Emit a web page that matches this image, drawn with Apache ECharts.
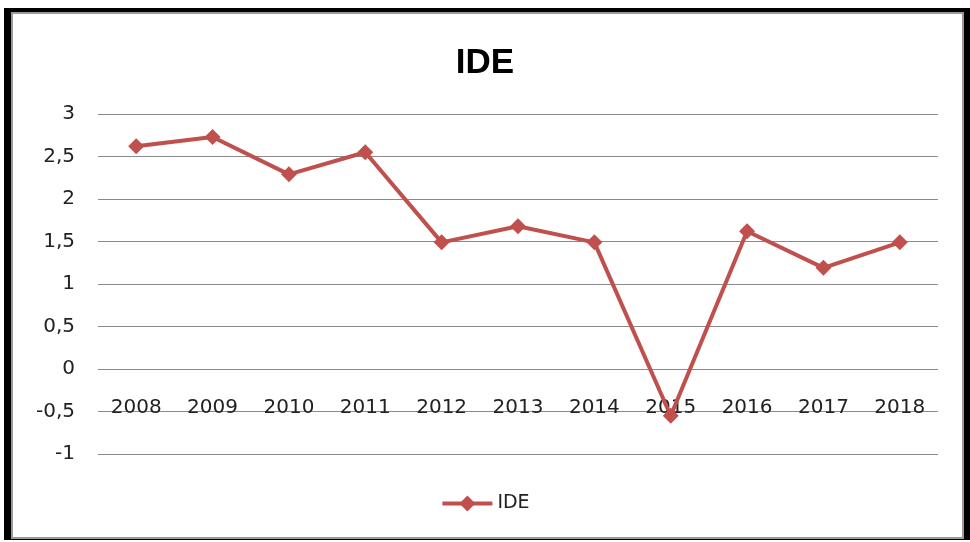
<!DOCTYPE html>
<html>
<head>
<meta charset="utf-8">
<script src="https://cdn.jsdelivr.net/npm/echarts@6/dist/echarts.min.js"></script>
<style>
html,body{margin:0;padding:0;background:#fff;}
#chart{width:970px;height:542px;}
</style>
</head>
<body>
<div id="chart"></div>
<script>
const categories = ['2008','2009','2010','2011','2012','2013','2014','2015','2016','2017','2018'];
const ideValues = [2.62, 2.73, 2.29, 2.55, 1.49, 1.68, 1.49, -0.55, 1.62, 1.19, 1.49];
const yTicks = { min: -1, max: 3, interval: 0.5 };
const titleText = 'IDE';
const seriesName = 'IDE';

const chart = echarts.init(document.getElementById('chart'), null, { renderer: 'canvas' });
const fmt = v => String(v).replace('.', ',');
chart.setOption({
  animation: false,
  backgroundColor: '#fff',
  graphic: [
    { type: 'rect', z: -10, shape: { x: 4, y: 8, width: 970, height: 532 }, style: { fill: '#000' } },
    { type: 'rect', z: -9, shape: { x: 11, y: 12, width: 953, height: 527 }, style: { fill: '#9a9a9a' } },
    { type: 'rect', z: -8, shape: { x: 13, y: 14, width: 949, height: 523 }, style: { fill: '#fff' } }
  ],
  title: {
    text: titleText,
    left: 'center',
    top: 41,
    textStyle: { fontFamily: 'Liberation Sans', fontWeight: 'bold', fontSize: 35, color: '#000' }
  },
  legend: {
    data: [seriesName],
    bottom: 24,
    left: 'center',
    itemWidth: 50,
    itemHeight: 20,
    itemGap: 4,
    lineStyle: { width: 4 },
    textStyle: { fontFamily: 'DejaVu Sans', fontSize: 19, color: '#222' }
  },
  grid: { left: 98, right: 32, top: 114, bottom: 88 },
  xAxis: {
    type: 'category',
    data: categories,
    boundaryGap: true,
    offset: -85,
    axisLine: { show: false, onZero: false },
    axisTick: { show: false },
    axisLabel: { margin: 29, fontFamily: 'DejaVu Sans', fontSize: 20, color: '#222' },
    splitLine: { show: false }
  },
  yAxis: {
    type: 'value',
    min: yTicks.min,
    max: yTicks.max,
    interval: yTicks.interval,
    axisLine: { show: false },
    axisTick: { show: false },
    axisLabel: { margin: 23, fontFamily: 'DejaVu Sans', fontSize: 20, color: '#222', formatter: fmt },
    splitLine: { lineStyle: { color: '#8a8a8a', width: 1 } }
  },
  series: [{
    name: seriesName,
    type: 'line',
    data: ideValues,
    symbol: 'diamond',
    symbolSize: 16,
    lineStyle: { color: '#C0504D', width: 4 },
    itemStyle: { color: '#C0504D' },
    z: 5
  }]
});
</script>
</body>
</html>
